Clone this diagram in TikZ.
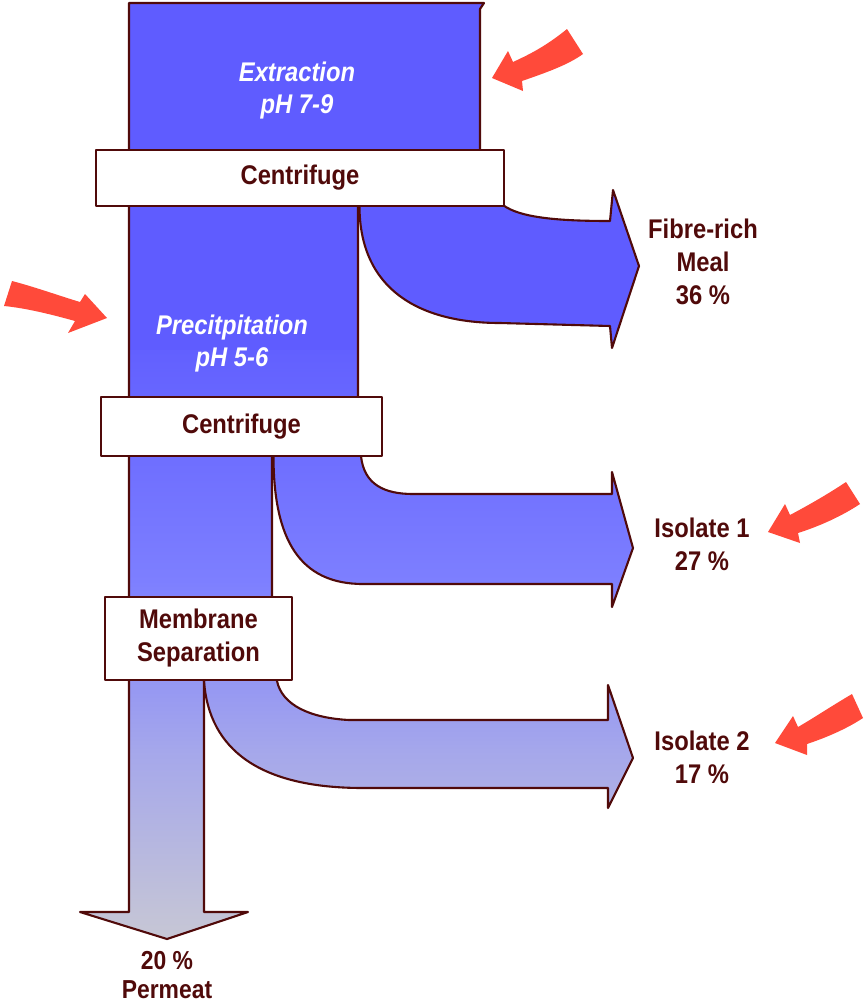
\documentclass[tikz,border=0pt]{standalone}
\usepackage{fontspec}
\newfontfamily\lab[FakeStretch=0.88]{Liberation Sans}
\definecolor{ink}{RGB}{80,10,10}
\definecolor{cA}{RGB}{95,92,255}
\definecolor{cB}{RGB}{98,96,255}
\definecolor{cC}{RGB}{125,127,255}
\definecolor{cD}{RGB}{165,167,235}
\definecolor{cE}{RGB}{200,200,212}
\definecolor{redarrow}{RGB}{255,74,58}
\begin{document}
\begin{tikzpicture}[x=1pt,y=-1pt,line join=round,
  outl/.style={draw=ink,line width=2.1pt},
  box/.style={draw=ink,line width=2.1pt,fill=white,inner sep=0pt,text=ink,align=center,
    font=\lab\bfseries\fontsize{27}{33}\selectfont},
  lbl/.style={inner sep=0pt,text=ink,align=center,font=\lab\bfseries\fontsize{27}{33}\selectfont},
  itl/.style={inner sep=0pt,text=white,align=center,font=\lab\bfseries\itshape\fontsize{27}{32}\selectfont},
  hint/.style={fill=redarrow,draw=none}]
\useasboundingbox (0,0) rectangle (865,1005);
% fill of the flow
\begin{scope}
\clip (129,3) -- (484,3) -- (480,9) -- (480,178) -- (358,178) -- (358,426) -- (272,426) -- (272,640) -- (204,640) -- (204,912) -- (248,912) -- (167,939) -- (80,912) -- (129,912) -- cycle
  (359.5,190) -- (359.5,206) .. controls (359.5,290) and (420,323) .. (500,323) -- (610,326) -- (612,348) -- (639,266) -- (613,190) -- (610,221) .. controls (560,221) and (520,218) .. (503,205) -- (503,190) -- cycle
  (273.5,440) -- (273.5,456) .. controls (273.5,540) and (300,584) .. (363,584) -- (612,584) -- (612,607) -- (633,548) -- (612,472) -- (612,494) -- (413,494) .. controls (385,494) and (364,485) .. (361,456) -- (361,440) -- cycle
  (204,670) -- (204,681) .. controls (209,750) and (260,788) .. (363,788) -- (608,788) -- (608,808) -- (633,758) -- (608,685) -- (608,720) -- (349,720) .. controls (310,718) and (282,705) .. (277,681) -- (277,670) -- cycle;
\fill[cA] (0,0) rectangle (865,351);
\shade[top color=cB,bottom color=cC] (0,350) rectangle (865,581);
\shade[top color=cC,bottom color=cD] (0,580) rectangle (865,751);
\shade[top color=cD,bottom color=cE] (0,750) rectangle (865,945);
\end{scope}
% outlines
\draw[outl] (129,912) -- (129,3) -- (484,3) -- (480,9) -- (480,178) -- (358,178) -- (358,426) -- (272,426) -- (272,640) -- (204,640) -- (204,912) -- (248,912) -- (167,939) -- (80,912) -- cycle;
\draw[outl] (359.5,190) -- (359.5,206) .. controls (359.5,290) and (420,323) .. (500,323) -- (610,326) -- (612,348) -- (639,266) -- (613,190) -- (610,221) .. controls (560,221) and (520,218) .. (503,205) -- (503,190);
\draw[outl] (273.5,440) -- (273.5,456) .. controls (273.5,540) and (300,584) .. (363,584) -- (612,584) -- (612,607) -- (633,548) -- (612,472) -- (612,494) -- (413,494) .. controls (385,494) and (364,485) .. (361,456) -- (361,440);
\draw[outl] (204,670) -- (204,681) .. controls (209,750) and (260,788) .. (363,788) -- (608,788) -- (608,808) -- (633,758) -- (608,685) -- (608,720) -- (349,720) .. controls (310,718) and (282,705) .. (277,681) -- (277,670);
% boxes
\node[box,minimum width=408pt,minimum height=56pt] (cen1) at (300,178) {Centrifuge};
\node[box,minimum width=281pt,minimum height=59pt] (cen2) at (241.5,426.5) {Centrifuge};
\node[box,minimum width=187pt,minimum height=83pt] (memb) at (198.5,638.5) {Membrane\\Separation};
% stage texts
\node[itl] (ext) at (297,91) {Extraction\\pH 7-9};
\node[itl] (prec) at (232,344) {Precitpitation\\pH 5-6};
% outputs
\node[lbl] (meal) at (703,262) {Fibre-rich\\Meal\\36 \%};
\node[lbl] (iso1) at (702,544) {Isolate 1\\27 \%};
\node[lbl] (iso2) at (702,757) {Isolate 2\\17 \%};
\node[lbl,font=\lab\bfseries\fontsize{26}{29}\selectfont] (perm) at (167,975) {20 \%\\Permeat};
% red hint arrows
\fill[hint] (567,29) .. controls (545,47) and (528,55) .. (513,62) -- (508,51) -- (492,78) -- (523,91) -- (522,81) .. controls (545,73) and (568,65) .. (583,54) -- cycle;
\fill[hint] (12,281) .. controls (35,287) and (60,296) .. (80,302) -- (85,294) -- (107,318) -- (68,333) -- (75,321) .. controls (50,314) and (25,308) .. (4,306) -- cycle;
\fill[hint] (846,482) .. controls (825,496) and (805,507) .. (790,515) -- (785,504) -- (768,532) -- (800,543) -- (798,533) .. controls (820,526) and (842,516) .. (860,504) -- cycle;
\fill[hint] (852,694) .. controls (830,707) and (812,719) .. (798,727) -- (793,716) -- (775,743) -- (807,755) -- (807,744) .. controls (828,737) and (848,728) .. (863,718) -- cycle;
\end{tikzpicture}
\end{document}
